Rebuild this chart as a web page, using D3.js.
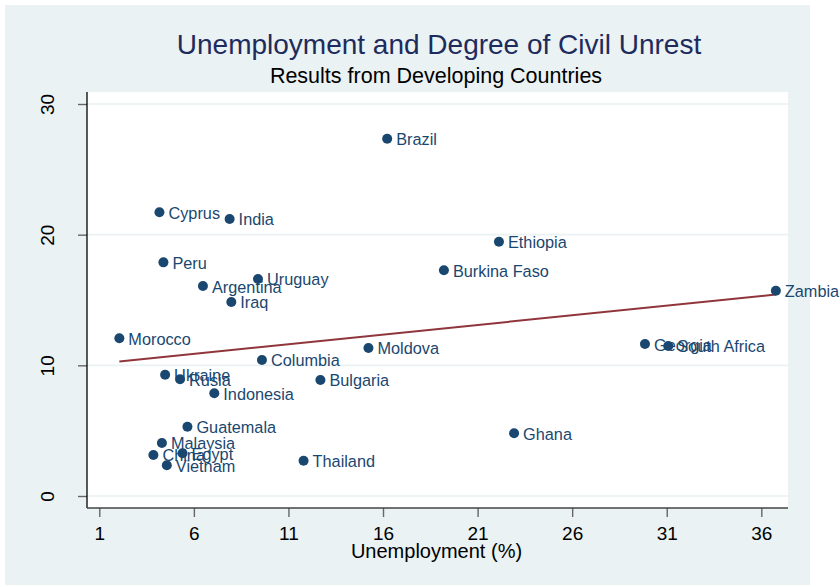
<!DOCTYPE html>
<html>
<head>
<meta charset="utf-8">
<style>
  body { margin: 0; background: #fff; }
  svg text { font-family: 'Liberation Sans', Arial, sans-serif; }
  .grid line { stroke: #eaf2f3; stroke-width: 1.6px; }
  .ticks line { stroke: #666; stroke-width: 1.4px; }
</style>
</head>
<body>
<svg id="chart"></svg>
<script src="https://d3js.org/d3.v7.min.js"></script>
<script>
'use strict';

// ========== data

var countries = ['Brazil', 'Cyprus', 'India', 'Ethiopia', 'Peru', 'Burkina Faso',
  'Uruguay', 'Argentina', 'Iraq', 'Zambia', 'Morocco', 'Moldova', 'Georgia',
  'South Africa', 'Columbia', 'Ukraine', 'Rusia', 'Bulgaria', 'Indonesia',
  'Guatemala', 'Ghana', 'Malaysia', 'China', 'Egypt', 'Vietnam', 'Thailand'];
var unemployment = [16.22, 4.18, 7.89, 22.13, 4.39, 19.22,
  9.39, 6.48, 7.98, 36.77, 2.06, 15.23, 29.85,
  31.08, 9.6, 4.48, 5.27, 12.69, 7.08,
  5.66, 22.93, 4.31, 3.86, 5.4, 4.57, 11.8];
var unrest = [27.34, 21.71, 21.2, 19.46, 17.88, 17.27,
  16.61, 16.07, 14.85, 15.71, 12.07, 11.33, 11.63,
  11.48, 10.41, 9.28, 8.93, 8.88, 7.86,
  5.3, 4.8, 4.06, 3.14, 3.27, 2.35, 2.7];
var xTicks = [1, 6, 11, 16, 21, 26, 31, 36];
var yTicks = [0, 10, 20, 30];

var titleText = 'Unemployment and Degree of Civil Unrest';
var subtitleText = 'Results from Developing Countries';
var xLabel = 'Unemployment (%)';

// ========== layout

var width = 840, height = 587;
var plot = { left: 87, right: 788, top: 92, bottom: 508 };
var navy = '#1a476f';

var svg = d3.select('#chart')
  .attr('width', width)
  .attr('height', height);

// outer background
svg.append('rect')
  .attr('x', 5).attr('y', 5)
  .attr('width', 805).attr('height', 580)
  .attr('fill', '#eaf2f3');

// plot region
svg.append('rect')
  .attr('x', plot.left).attr('y', plot.top)
  .attr('width', plot.right - plot.left)
  .attr('height', plot.bottom - plot.top)
  .attr('fill', '#fff');

var x = d3.scaleLinear().domain([1, 36]).range([99.3, 761.3]);
var y = d3.scaleLinear().domain([0, 30]).range([496, 104]);

// gridlines
svg.append('g')
  .attr('class', 'grid')
  .selectAll('line')
  .data(yTicks)
  .enter().append('line')
  .attr('x1', plot.left).attr('x2', plot.right)
  .attr('y1', function(d) { return y(d); })
  .attr('y2', function(d) { return y(d); });

// y axis
var yAxis = svg.append('g')
  .attr('transform', 'translate(' + plot.left + ',0)')
  .call(d3.axisLeft(y).tickValues(yTicks).tickSize(9).tickPadding(0).tickFormat(d3.format('d')));
yAxis.select('.domain').remove();
yAxis.selectAll('.tick line').attr('stroke', '#666').attr('stroke-width', 1.4);
yAxis.selectAll('.tick text')
  .attr('x', 0).attr('y', 0).attr('dy', 0)
  .attr('transform', 'translate(-33,0) rotate(-90)')
  .attr('text-anchor', 'middle')
  .attr('fill', '#000')
  .style('font-size', '19px');
svg.append('line')
  .attr('x1', plot.left).attr('x2', plot.left)
  .attr('y1', plot.top).attr('y2', plot.bottom)
  .attr('stroke', '#000').attr('stroke-width', 1.3);

// x axis
var xAxis = svg.append('g')
  .attr('transform', 'translate(0,' + plot.bottom + ')')
  .call(d3.axisBottom(x).tickValues(xTicks).tickSize(9).tickPadding(0).tickFormat(d3.format('d')));
xAxis.select('.domain').remove();
xAxis.selectAll('.tick line').attr('stroke', '#666').attr('stroke-width', 1.4);
xAxis.selectAll('.tick text')
  .attr('y', 32).attr('dy', 0)
  .attr('fill', '#000')
  .style('font-size', '19px');
svg.append('line')
  .attr('x1', plot.left).attr('x2', plot.right)
  .attr('y1', plot.bottom).attr('y2', plot.bottom)
  .attr('stroke', '#444').attr('stroke-width', 1.3);

svg.append('text')
  .attr('x', (plot.left + plot.right) / 2 - 1).attr('y', 558)
  .attr('text-anchor', 'middle')
  .style('font-size', '20px')
  .text(xLabel);

// ========== linear fit

var points = countries.map(function(c, i) {
  return { name: c, x: unemployment[i], y: unrest[i] };
});
var mx = d3.mean(points, function(d) { return d.x; });
var my = d3.mean(points, function(d) { return d.y; });
var sxy = d3.sum(points, function(d) { return (d.x - mx) * (d.y - my); });
var sxx = d3.sum(points, function(d) { return (d.x - mx) * (d.x - mx); });
var slope = sxy / sxx;
var icpt = my - slope * mx;
var xr = d3.extent(points, function(d) { return d.x; });

svg.append('line')
  .attr('x1', x(xr[0])).attr('y1', y(icpt + slope * xr[0]))
  .attr('x2', x(xr[1])).attr('y2', y(icpt + slope * xr[1]))
  .attr('stroke', '#90353b').attr('stroke-width', 2);

// ========== markers + labels

var node = svg.append('g')
  .selectAll('g')
  .data(points)
  .enter().append('g')
  .attr('transform', function(d) { return 'translate(' + x(d.x) + ',' + y(d.y) + ')'; });
node.append('circle')
  .attr('r', 5)
  .attr('fill', navy);
node.append('text')
  .attr('x', 9).attr('y', 6.5)
  .attr('fill', navy)
  .style('font-size', '16.3px')
  .text(function(d) { return d.name; });

// ========== titles

svg.append('text')
  .attr('x', 439).attr('y', 54)
  .attr('text-anchor', 'middle')
  .attr('fill', '#1e2b5c')
  .style('font-size', '28px')
  .text(titleText);

svg.append('text')
  .attr('x', 436).attr('y', 83)
  .attr('text-anchor', 'middle')
  .attr('fill', '#000')
  .style('font-size', '21.5px')
  .text(subtitleText);
</script>
</body>
</html>
